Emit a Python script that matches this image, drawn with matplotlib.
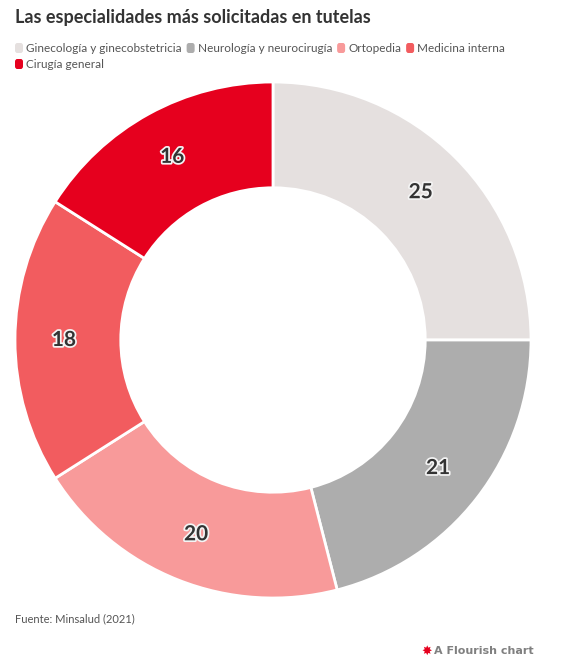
import numpy as np
import matplotlib.pyplot as plt
import matplotlib.patheffects as pe
from matplotlib.patches import FancyBboxPatch

categorias = ["Ginecología y ginecobstetricia", "Neurología y neurocirugía",
              "Ortopedia", "Medicina interna", "Cirugía general"]
valores = [25, 21, 20, 18, 16]
colores = ["#e5e0df", "#adadad", "#f89a9a", "#f25c5f", "#e6001e"]

plt.rcParams["font.family"] = ["Lato", "DejaVu Sans"]

W, H = 564, 664
fig = plt.figure(figsize=(W / 100, H / 100), dpi=100)

# donut, centre (273, 340) px, radius 258 px
cx, cy, R = 273, 340, 258
ax = fig.add_axes([(cx - R) / W, (H - cy - R) / H, 2 * R / W, 2 * R / H])
wedges, _ = ax.pie(valores, colors=colores, startangle=90, counterclock=False,
                   radius=1, wedgeprops=dict(width=0.41, edgecolor="white", linewidth=2))
ax.set_xlim(-1, 1)
ax.set_ylim(-1, 1)
ax.set_aspect("equal")
ax.axis("off")

total = sum(valores)
ang = 90
for v in valores:
    mid = np.deg2rad(ang - v / total * 360 / 2)
    ax.text(0.81 * np.cos(mid), 0.81 * np.sin(mid), str(v), ha="center", va="center",
            fontsize=15, fontweight="bold", color="#333333",
            path_effects=[pe.withStroke(linewidth=2.5, foreground="#f4f4f4")])
    ang -= v / total * 360

fig.text(15 / W, 1 - 17 / H, "Las especialidades más solicitadas en tutelas",
         fontsize=13, fontweight="bold", color="#333333", va="center")

# legend, wrapped manually
fig.canvas.draw()
rend = fig.canvas.get_renderer()
x, y = 15, 48
for cat, col in zip(categorias, colores):
    t = fig.text(0, 0, cat, fontsize=8.5, color="#555555", va="center")
    w = t.get_window_extent(rend).width
    if x + 12 + w > W - 10:
        x, y = 15, y + 16
    fig.patches.append(FancyBboxPatch((x / W, 1 - (y + 5) / H), 8 / W, 10 / H,
                                      boxstyle="round,pad=0,rounding_size=0.004",
                                      transform=fig.transFigure, facecolor=col,
                                      edgecolor="none"))
    t.set_position(((x + 11) / W, 1 - y / H))
    x += 11 + w + 5

fig.text(15 / W, 1 - 619 / H, "Fuente: Minsalud (2021)", fontsize=8,
         color="#555555", va="center")
fig.text(534 / W, 1 - 651 / H, "A Flourish chart", fontsize=8, fontweight="bold",
         color="#808080", va="center", ha="right", family="DejaVu Sans")
fig.text(427 / W, 1 - 651 / H, "✸", fontsize=9, color="#e6001e", va="center",
         ha="center", family="DejaVu Sans")

fig.savefig("out.png", dpi=100, facecolor="white")
